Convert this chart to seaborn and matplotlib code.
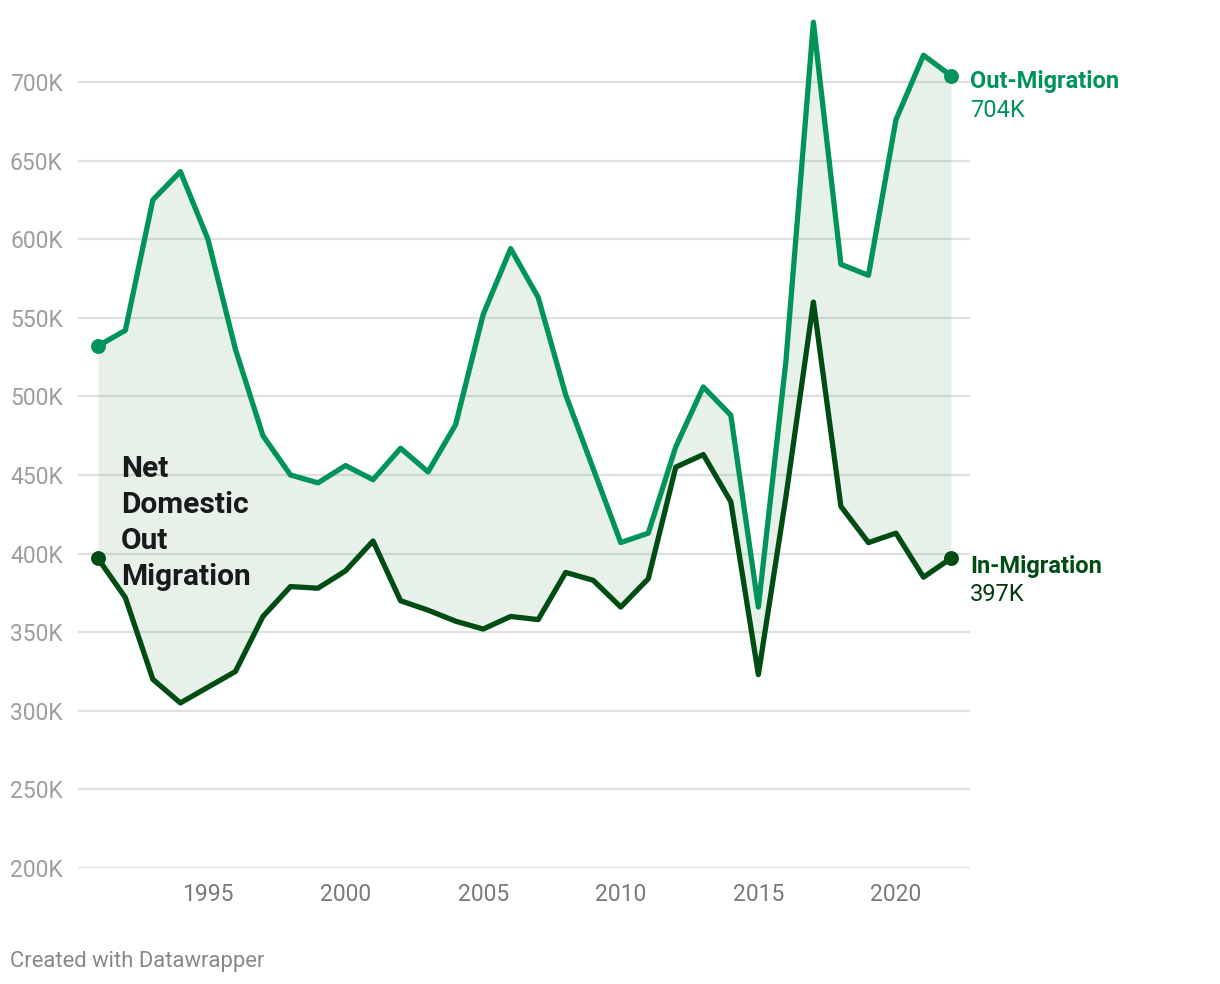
import matplotlib
matplotlib.use("Agg")
import matplotlib.pyplot as plt
import seaborn as sns
import pandas as pd
import numpy as np

years = list(range(1991, 2023))
out_migration = [532, 542, 625, 643, 600, 530, 475, 450, 445, 456, 447, 467, 452, 482,
                 552, 594, 563, 501, 454, 407, 413, 468, 506, 488, 366, 522, 738, 584,
                 577, 676, 717, 704]
in_migration = [397, 372, 320, 305, 315, 325, 360, 379, 378, 389, 408, 370, 364, 357,
                352, 360, 358, 388, 383, 366, 384, 455, 463, 433, 323, 436, 560, 430,
                407, 413, 385, 397]
series_names = ["Out-Migration", "In-Migration"]
y_ticks = [200, 250, 300, 350, 400, 450, 500, 550, 600, 650, 700]
x_ticks = [1995, 2000, 2005, 2010, 2015, 2020]
annotation = "Net\nDomestic\nOut\nMigration"
credit = "Created with Datawrapper"

OUT_C = "#00945a"
IN_C = "#004d14"

sns.set_theme(style="white")
plt.rcParams["font.family"] = ["Roboto", "DejaVu Sans"]

df = pd.DataFrame({
    "year": years * 2,
    "value": out_migration + in_migration,
    "series": [series_names[0]] * len(years) + [series_names[1]] * len(years),
})

fig = plt.figure(figsize=(12.2, 9.84), dpi=100)
ax = fig.add_axes([78 / 1220, 1 - 868 / 984, (970 - 78) / 1220, (868 - 15) / 984])

ax.fill_between(years, in_migration, out_migration, color="#1a7f37", alpha=0.1,
                linewidth=0, zorder=1)
sns.lineplot(data=df, x="year", y="value", hue="series",
             palette={series_names[0]: OUT_C, series_names[1]: IN_C},
             linewidth=3.8, ax=ax, legend=False, zorder=3)
for vals, c in [(out_migration, OUT_C), (in_migration, IN_C)]:
    ax.scatter([years[0], years[-1]], [vals[0], vals[-1]], s=115, color=c,
               zorder=4, linewidths=0)

ax.set_xlim(1990.28, 2022.69)
ax.set_ylim(200, 742.6)
ax.set_yticks(y_ticks)
ax.set_yticklabels([f"{v}K" for v in y_ticks])
ax.set_xticks(x_ticks)
ax.set_xticklabels([str(v) for v in x_ticks])
ax.tick_params(axis="y", length=0, pad=11, labelsize=16.5, labelcolor="#9e9e9e")
ax.tick_params(axis="x", length=0, pad=10.5, labelsize=16.5, labelcolor="#7a7a7a")
ax.grid(axis="y", color="#e0e0e0", linewidth=1.6, zorder=0)
ax.grid(axis="x", visible=False)
ax.set_axisbelow(True)
for s in ax.spines.values():
    s.set_visible(False)
ax.set_xlabel("")
ax.set_ylabel("")

# end labels
FS = 17
ax.annotate(series_names[0], xy=(years[-1], out_migration[-1]), xytext=(19, -6),
            textcoords="offset pixels", ha="left", va="center", fontsize=FS,
            fontweight="bold", color=OUT_C, annotation_clip=False)
ax.annotate(f"{out_migration[-1]}K", xy=(years[-1], out_migration[-1]), xytext=(19, -35),
            textcoords="offset pixels", ha="left", va="center", fontsize=FS,
            color=OUT_C, annotation_clip=False)
ax.annotate(series_names[1], xy=(years[-1], in_migration[-1]), xytext=(19, -8),
            textcoords="offset pixels", ha="left", va="center", fontsize=FS,
            fontweight="bold", color=IN_C, annotation_clip=False)
ax.annotate(f"{in_migration[-1]}K", xy=(years[-1], in_migration[-1]), xytext=(19, -36),
            textcoords="offset pixels", ha="left", va="center", fontsize=FS,
            color="#003a10", annotation_clip=False)

fig.text(121 / 1220, 1 - 455 / 984, annotation, ha="left", va="top", fontsize=21.5,
         fontweight="bold", color="#1a1a1a", linespacing=1.36)

fig.text(10 / 1220, 1 - 961 / 984, credit, ha="left", va="center", fontsize=15.8,
         color="#888888")

fig.savefig("out.png", dpi=100, facecolor="white")
